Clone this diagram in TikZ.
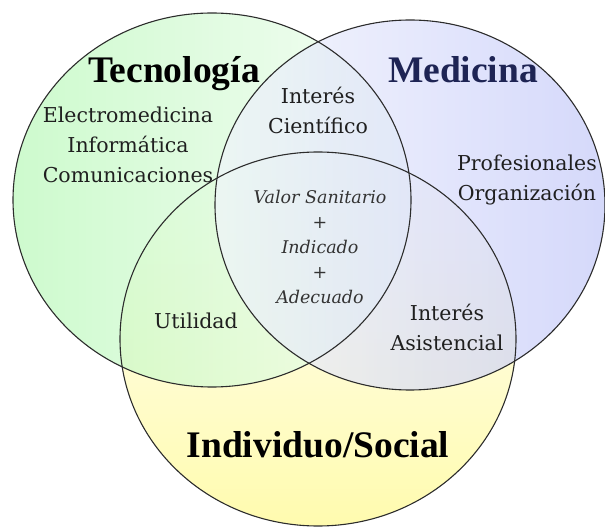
\documentclass[tikz,border=0pt]{standalone}
\usepackage{fontspec}
\setmainfont{DejaVu Serif}
\newfontfamily\headfont{Liberation Serif}
\usetikzlibrary{positioning}

\definecolor{tecgreen}{RGB}{184,248,184}
\definecolor{tecpale}{RGB}{242,253,242}
\definecolor{medblue}{RGB}{190,196,248}
\definecolor{medpale}{RGB}{242,244,253}
\definecolor{indyellow}{RGB}{255,250,160}
\definecolor{medtitle}{RGB}{30,36,84}
\definecolor{rimgray}{RGB}{44,44,44}

\begin{document}
\begin{tikzpicture}[x=1pt, y=1pt,
  rim/.style={draw=rimgray, line width=1.1pt},
  title/.style={anchor=base, font=\headfont\bfseries\fontsize{37.5}{40}\selectfont},
  entry/.style={align=center, text=black!88, font=\fontsize{20.5}{30}\selectfont},
  core/.style={align=center, text=black!80, font=\itshape\fontsize{17.5}{25}\selectfont}]
  \useasboundingbox (0,0) rectangle (605,528);

  % The three sets, faded towards the middle
  \shade[bottom color=indyellow, middle color=indyellow!40, top color=white, fill opacity=0.85]
    (318,189) ellipse [x radius=198, y radius=187];
  \shade[shading angle=-60, left color=tecgreen, right color=tecpale, fill opacity=0.7]
    (212,328) ellipse [x radius=199, y radius=187];
  \shade[shading angle=60, right color=medblue, left color=medpale, fill opacity=0.65]
    (410,323) ellipse [x radius=195, y radius=185];

  % Rims
  \draw[rim] (212,328) ellipse [x radius=199, y radius=187];
  \draw[rim] (410,323) ellipse [x radius=195, y radius=185];
  \draw[rim] (318,189) ellipse [x radius=198, y radius=187];

  % Set names
  \node[title] (tec) at (174,445) {Tecnología};
  \node[title, text=medtitle] (med) at (463,445) {Medicina};
  \node[title] (ind) at (318,71) {Individuo/Social};

  % Contents of each set
  \node[entry] (tecitems) at (128,383.5) {Electromedicina\\Informática\\Comunicaciones};
  \node[entry] (meditems) at (527,348) {Profesionales\\Organización};

  % Pairwise overlaps
  \node[entry] (cientifico) at (318,417.5) {Interés\\Científico};
  \node[entry] (utilidad) at (196,207.5) {Utilidad};
  \node[entry] (asistencial) at (447,200.5) {Interés\\Asistencial};

  % Middle
  \node[core] (valor) at (320,281) {Valor Sanitario\\+\\Indicado\\+\\Adecuado};
\end{tikzpicture}
\end{document}
